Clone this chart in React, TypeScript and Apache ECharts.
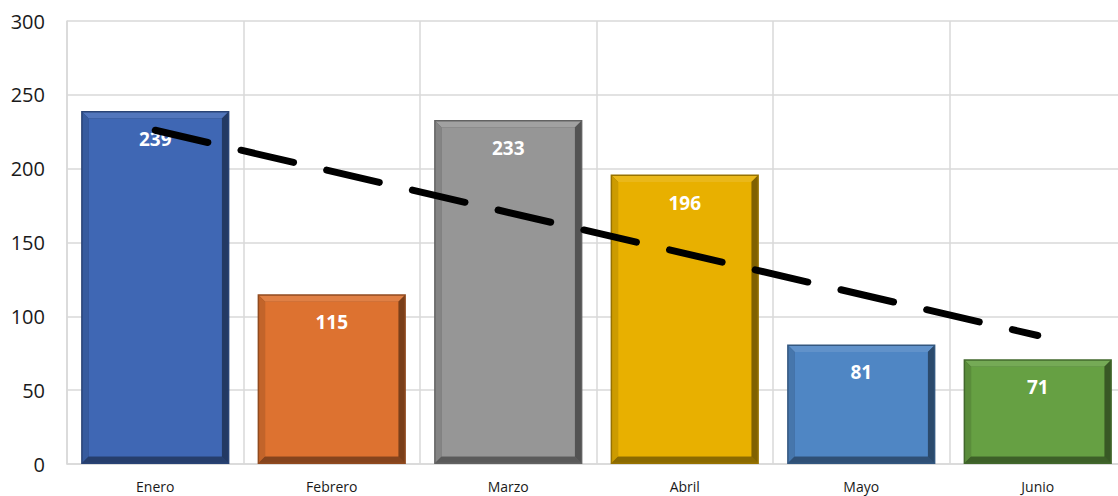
import React, { useEffect, useRef } from "react";
import * as echarts from "echarts";

const categories = ["Enero", "Febrero", "Marzo", "Abril", "Mayo", "Junio"];
const values = [239, 115, 233, 196, 81, 71];
const barColors = ["#3F67B4", "#DD7230", "#969696", "#E8B000", "#4F86C4", "#66A043"];
const trendValues = [226, null, null, null, null, 87];
const yTicks = [0, 50, 100, 150, 200, 250, 300];

function shade(hex: string, f: number): string {
  const n = parseInt(hex.slice(1), 16);
  let r = (n >> 16) & 255, g = (n >> 8) & 255, b = n & 255;
  if (f < 0) {
    r = Math.round(r * (1 + f)); g = Math.round(g * (1 + f)); b = Math.round(b * (1 + f));
  } else {
    r = Math.round(r + (255 - r) * f); g = Math.round(g + (255 - g) * f); b = Math.round(b + (255 - b) * f);
  }
  return `rgb(${r},${g},${b})`;
}

export default function App() {
  const ref = useRef<HTMLDivElement>(null);
  useEffect(() => {
    document.body.style.margin = "0";
    const chart = echarts.init(ref.current!, null, { renderer: "svg" });
    const option: any = {
      animation: false,
      backgroundColor: "#ffffff",
      grid: { left: 67, right: 0, top: 21, bottom: 32 },
      xAxis: {
        type: "category",
        data: categories,
        boundaryGap: true,
        axisLine: { show: true, lineStyle: { color: "#d9d9d9", width: 1.5 } },
        axisTick: { show: false },
        axisLabel: { color: "#1a1a1a", fontSize: 14, fontFamily: "Open Sans", margin: 15 },
        splitLine: { show: true, lineStyle: { color: "#d9d9d9", width: 1.5 } },
      },
      yAxis: {
        type: "value",
        min: yTicks[0],
        max: yTicks[yTicks.length - 1],
        interval: 50,
        axisLine: { show: true, lineStyle: { color: "#d9d9d9", width: 1.5 } },
        axisTick: { show: false },
        axisLabel: { color: "#1a1a1a", fontSize: 20, fontFamily: "Open Sans", margin: 22 },
        splitLine: { show: true, lineStyle: { color: "#d9d9d9", width: 1.5 } },
      },
      series: [
        {
          type: "custom",
          data: values.map((v, i) => [i, v]),
          encode: { x: 0, y: 1 },
          renderItem: (params: any, api: any) => {
            const idx = api.value(0);
            const val = api.value(1);
            const top = api.coord([idx, val]);
            const base = api.coord([idx, 0]);
            const w = api.size([1, 0])[0] * 0.84;
            const x0 = top[0] - w / 2;
            const x1 = top[0] + w / 2;
            const y0 = top[1];
            const y1 = base[1];
            const c = barColors[params.dataIndex];
            const b = 6;
            const o = 1.5;
            return {
              type: "group",
              children: [
                { type: "rect", shape: { x: x0, y: y0, width: w, height: y1 - y0 }, style: { fill: shade(c, -0.35) } },
                { type: "polygon", shape: { points: [[x0 + o, y0 + o], [x1 - o, y0 + o], [x1 - o - b, y0 + o + b], [x0 + o + b, y0 + o + b]] }, style: { fill: shade(c, 0.1) } },
                { type: "polygon", shape: { points: [[x0 + o, y0 + o], [x0 + o + b, y0 + o + b], [x0 + o + b, y1 - o - b], [x0 + o, y1 - o]] }, style: { fill: shade(c, -0.12) } },
                { type: "polygon", shape: { points: [[x1 - o, y0 + o], [x1 - o, y1 - o], [x1 - o - b, y1 - o - b], [x1 - o - b, y0 + o + b]] }, style: { fill: shade(c, -0.45) } },
                { type: "polygon", shape: { points: [[x0 + o, y1 - o], [x1 - o, y1 - o], [x1 - o - b, y1 - o - b], [x0 + o + b, y1 - o - b]] }, style: { fill: shade(c, -0.4) } },
                { type: "rect", shape: { x: x0 + o + b, y: y0 + o + b, width: w - 2 * (o + b), height: Math.max(0, y1 - y0 - 2 * (o + b)) }, style: { fill: c } },
                {
                  type: "text",
                  style: {
                    text: String(val),
                    x: top[0],
                    y: y0 + 28,
                    align: "center",
                    verticalAlign: "middle",
                    fill: "#ffffff",
                    font: "bold 19px 'Open Sans'",
                  },
                },
              ],
            };
          },
          z: 2,
        },
        {
          type: "line",
          data: trendValues,
          connectNulls: true,
          symbol: "none",
          lineStyle: { color: "#000000", width: 7, type: [54, 34], cap: "round" },
          z: 5,
        },
      ],
    };
    chart.setOption(option);
    return () => chart.dispose();
  }, []);
  return (
    <div style={{ width: 1118, height: 496, overflow: "hidden", position: "relative" }}>
      <div ref={ref} style={{ width: 1126, height: 496 }} />
    </div>
  );
}
